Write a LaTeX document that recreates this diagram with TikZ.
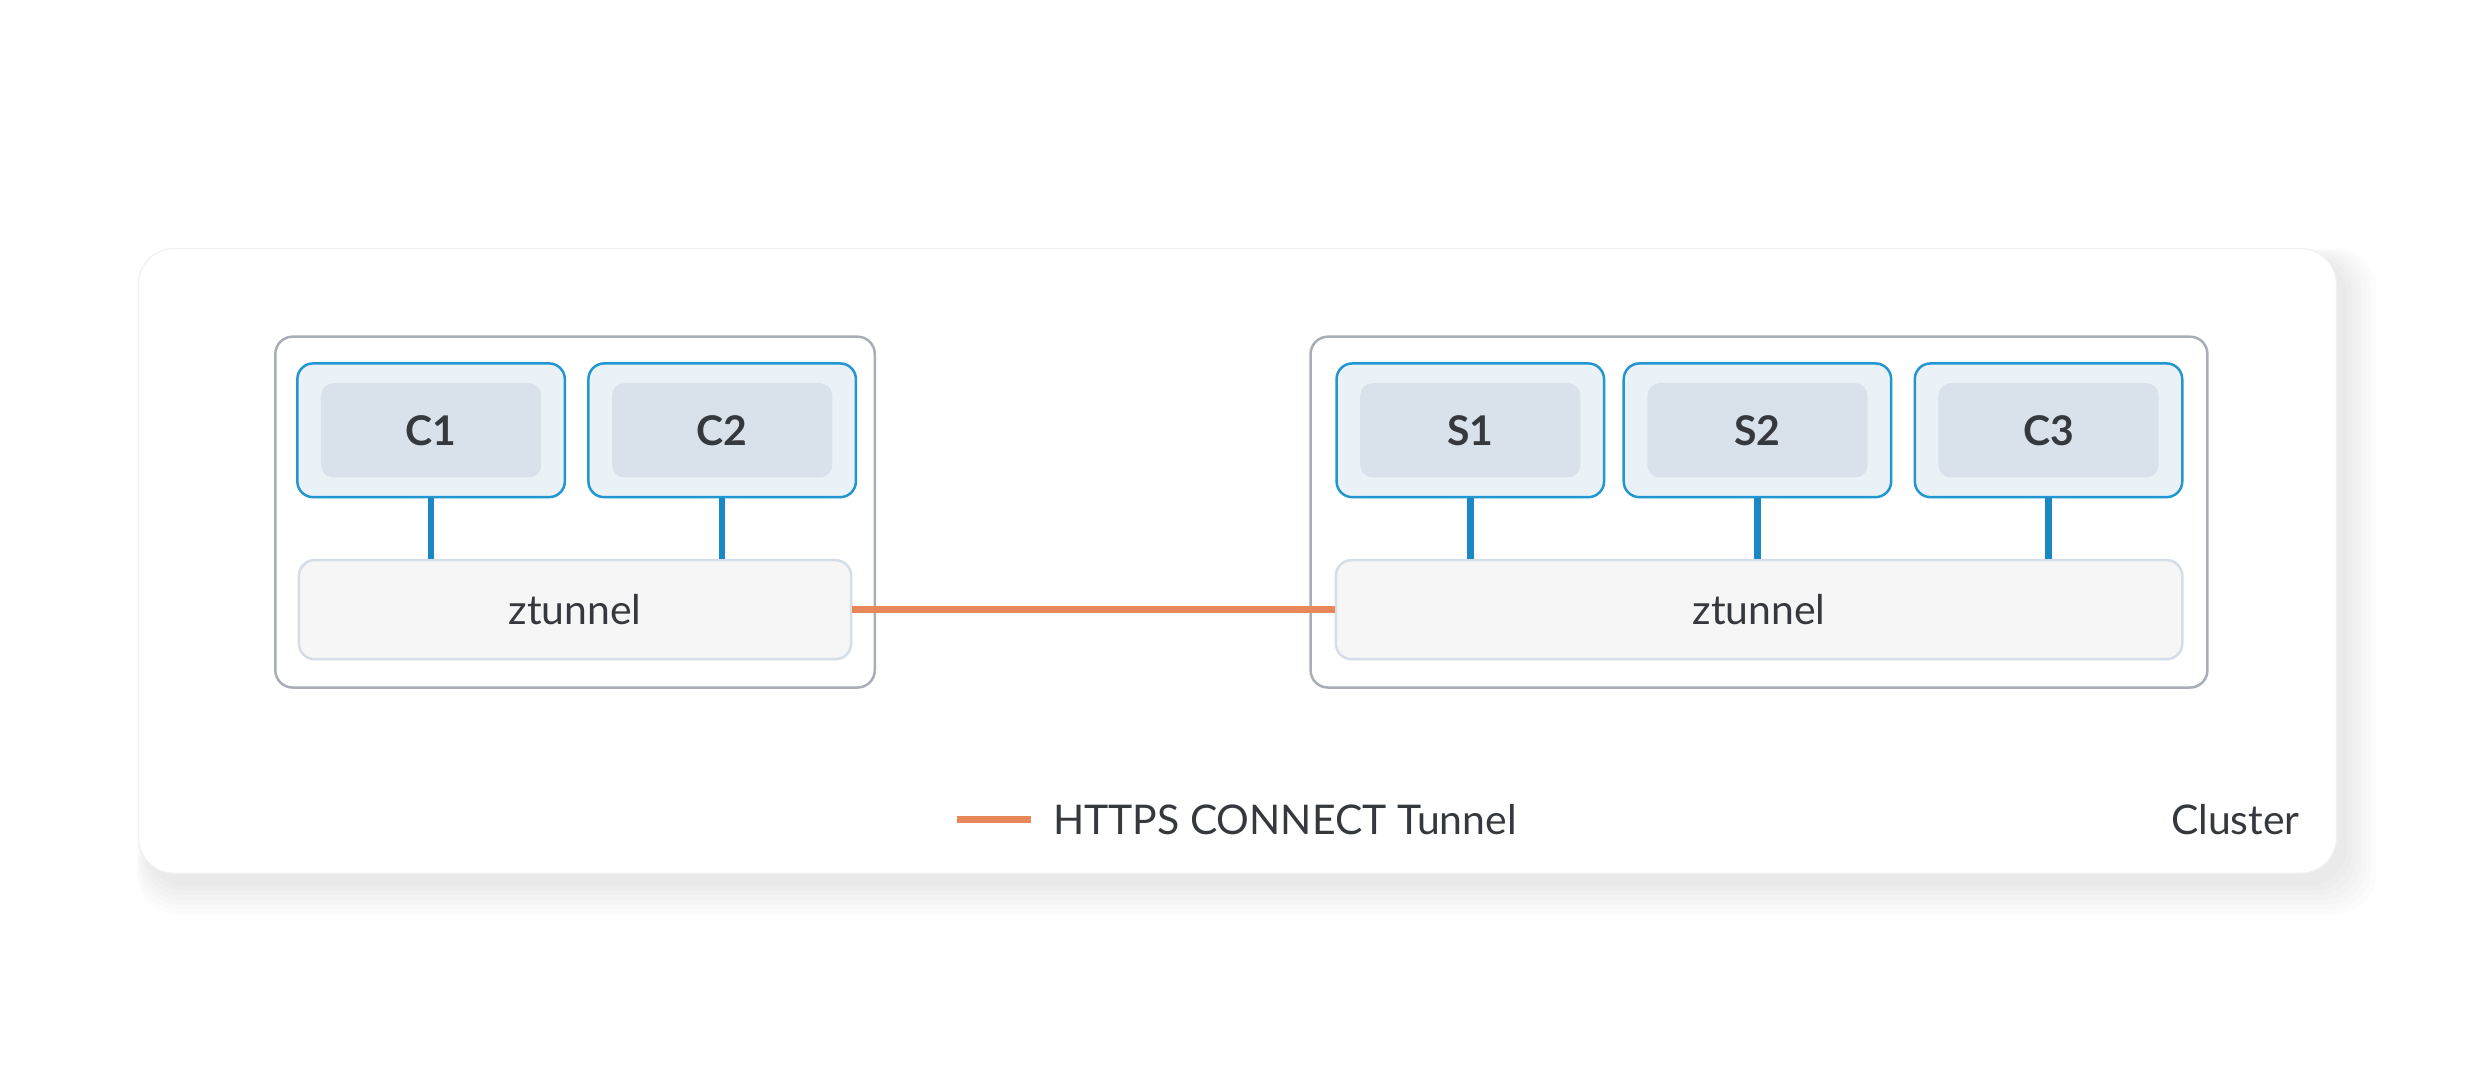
\documentclass[tikz,border=0pt]{standalone}
\usepackage{fontspec}
\setmainfont{Lato}
\usepackage{xcolor}
\usepackage{tikz}
\usetikzlibrary{positioning}

\definecolor{textgray}{HTML}{35383D}
\definecolor{podblue}{HTML}{2196D0}
\definecolor{podfill}{HTML}{EAF2F8}
\definecolor{innerfill}{HTML}{D9E1EA}
\definecolor{linkblue}{HTML}{1A88C4}
\definecolor{ztfill}{HTML}{F6F6F6}
\definecolor{ztline}{HTML}{D5DEE8}
\definecolor{groupline}{HTML}{A9ADB5}
\definecolor{tunnelorange}{HTML}{E8875A}

\tikzset{
  clusterbox/.style={draw=black!6, fill=white, rounded corners=0.45cm},
  groupbox/.style={draw=groupline, line width=0.9pt, fill=white, rounded corners=0.22cm},
  podbox/.style={draw=podblue, line width=0.9pt, fill=podfill, rounded corners=0.2cm,
    minimum width=3.4cm, minimum height=1.7cm},
  containerbox/.style={fill=innerfill, rounded corners=0.16cm,
    minimum width=2.8cm, minimum height=1.2cm, font=\fontsize{14.8}{18}\selectfont\bfseries},
  ztbox/.style={draw=ztline, line width=0.9pt, fill=ztfill, rounded corners=0.2cm,
    minimum height=1.26cm},
  podlink/.style={draw=linkblue, line width=2.4pt},
  tunnel/.style={draw=tunnelorange, line width=2.4pt}
}

\begin{document}
\begin{tikzpicture}[font=\fontsize{14.8}{18}\selectfont, text=textgray]

    \useasboundingbox (0,0) rectangle (31.36,13.72);

    % Soft shadow below the cluster
    \foreach \s in {0.40,0.34,...,0.0}
      \fill[black, opacity=0.012, rounded corners=0.5cm]
        (1.76+0.1-\s*0.3, 2.62-0.12-\s) rectangle (29.70+0.1+\s, 10.56-0.12+\s*0.3);

    % Cluster
    \node[clusterbox, minimum width=27.94cm, minimum height=7.94cm] (cluster) at (15.73,6.59) {};
    \node[anchor=east, inner sep=0] (clusterlabel) at (29.24,3.30) {Cluster};

    % Client side node
    \node[groupbox, minimum width=7.62cm, minimum height=4.46cm] (left) at (7.31,7.21) {};
    \node[podbox] (c1pod) at (5.48,8.25) {};
    \node[podbox] (c2pod) at (9.18,8.25) {};
    \node[containerbox] (c1) at (c1pod) {C1};
    \node[containerbox] (c2) at (c2pod) {C2};
    \node[ztbox, minimum width=7.02cm] (ztleft) at (7.31,5.97) {ztunnel};

    % Server side node
    \node[groupbox, minimum width=11.40cm, minimum height=4.46cm] (right) at (22.36,7.21) {};
    \node[podbox] (s1pod) at (18.69,8.25) {};
    \node[podbox] (s2pod) at (22.34,8.25) {};
    \node[podbox] (c3pod) at (26.04,8.25) {};
    \node[containerbox] (s1) at (s1pod) {S1};
    \node[containerbox] (s2) at (s2pod) {S2};
    \node[containerbox] (c3) at (c3pod) {C3};
    \node[ztbox, minimum width=10.76cm] (ztright) at (22.36,5.97) {ztunnel};

    % Pods to ztunnel
    \foreach \p in {c1pod, c2pod}
      \draw[podlink] (\p.south) -- (\p.south |- ztleft.north);
    \foreach \p in {s1pod, s2pod, c3pod}
      \draw[podlink] (\p.south) -- (\p.south |- ztright.north);

    % Tunnel between the ztunnels
    \draw[tunnel] (ztleft.east) -- (ztright.west);

    % Legend
    \coordinate (legstart) at (12.16,3.30);
    \coordinate (legend) at (13.10,3.30);
    \draw[tunnel] (legstart) -- (legend);
    \node[right=0.28cm of legend, inner sep=0] (legendtext) {HTTPS CONNECT Tunnel};

\end{tikzpicture}
\end{document}
